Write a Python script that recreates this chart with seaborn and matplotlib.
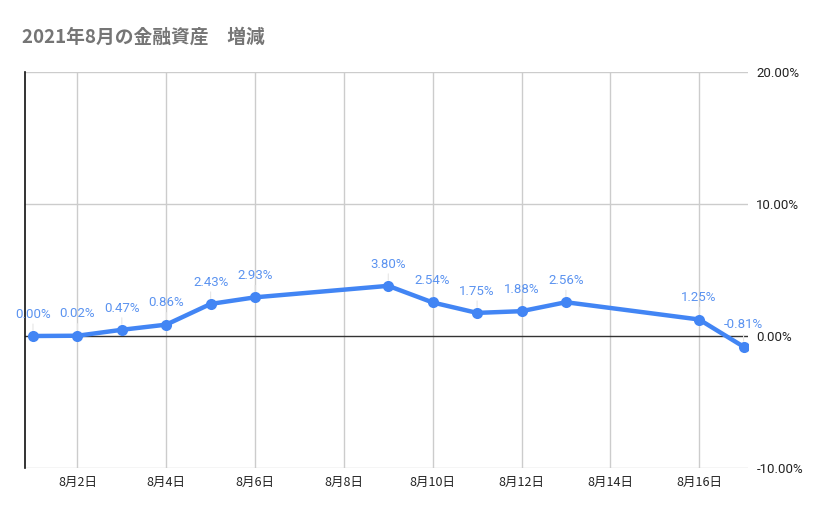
import matplotlib
matplotlib.use("Agg")
import matplotlib.pyplot as plt
import pandas as pd
import seaborn as sns

# データ（8月の日付と増減率 %）
days = [1, 2, 3, 4, 5, 6, 9, 10, 11, 12, 13, 16, 17]
change_pct = [0.00, 0.02, 0.47, 0.86, 2.43, 2.93, 3.80, 2.54, 1.75, 1.88, 2.56, 1.25, -0.81]
x_ticks = [2, 4, 6, 8, 10, 12, 14, 16]
y_ticks = [-10, 0, 10, 20]
title = "2021年8月の金融資産　増減"

df = pd.DataFrame({"day": days, "change": change_pct})

sns.set_style("white")
plt.rcParams["font.family"] = ["Noto Sans CJK JP", "DejaVu Sans"]

blue = "#4285F4"
fig = plt.figure(figsize=(8.29, 5.14), dpi=100)
ax = fig.add_axes([25 / 829, 1 - 468 / 514, 723 / 829, 396 / 514])

# グリッド
for d in x_ticks:
    ax.axvline(d, color="#cccccc", lw=1, zorder=0)
for v in [-10, 10, 20]:
    ax.axhline(v, color="#cccccc", lw=1, zorder=0)
ax.axhline(0, color="#333333", lw=1, zorder=1)

sns.lineplot(data=df, x="day", y="change", ax=ax, color=blue, lw=3.2,
             marker="o", markersize=8, markeredgewidth=0, zorder=3)

# データラベル
for d, v in zip(days, change_pct):
    ax.annotate(f"{v:.2f}%", xy=(d, v), xytext=(0, 11), textcoords="offset points",
                ha="center", va="bottom", fontsize=9.5, color="#5b93f0",
                family=["Roboto", "DejaVu Sans"],
                arrowprops=dict(arrowstyle="-", color="#e6e6e6", lw=0.8,
                                shrinkA=0, shrinkB=4))

ax.set_xlim(0.82, 17.1)
ax.set_ylim(-10, 20)
ax.set_xticks(x_ticks)
ax.set_xticklabels([f"8月{d}日" for d in x_ticks], fontsize=9, color="#222222")
ax.set_yticks(y_ticks)
ax.set_yticklabels([f"{v:.2f}%" for v in y_ticks], fontsize=9.5, color="#222222",
                   family=["Roboto", "DejaVu Sans"])
ax.yaxis.tick_right()
ax.tick_params(axis="both", length=0)
ax.tick_params(axis="x", pad=6)
ax.tick_params(axis="y", pad=6)
ax.set_xlabel("")
ax.set_ylabel("")

for s in ["top", "right", "bottom"]:
    ax.spines[s].set_visible(False)
ax.spines["left"].set_color("#111111")
ax.spines["left"].set_linewidth(1.2)

fig.text(22 / 829, 1 - 37 / 514, title, fontsize=13.5, fontweight="bold",
         color="#757575", va="center", ha="left")

fig.savefig("out.png", dpi=100, facecolor="white")
